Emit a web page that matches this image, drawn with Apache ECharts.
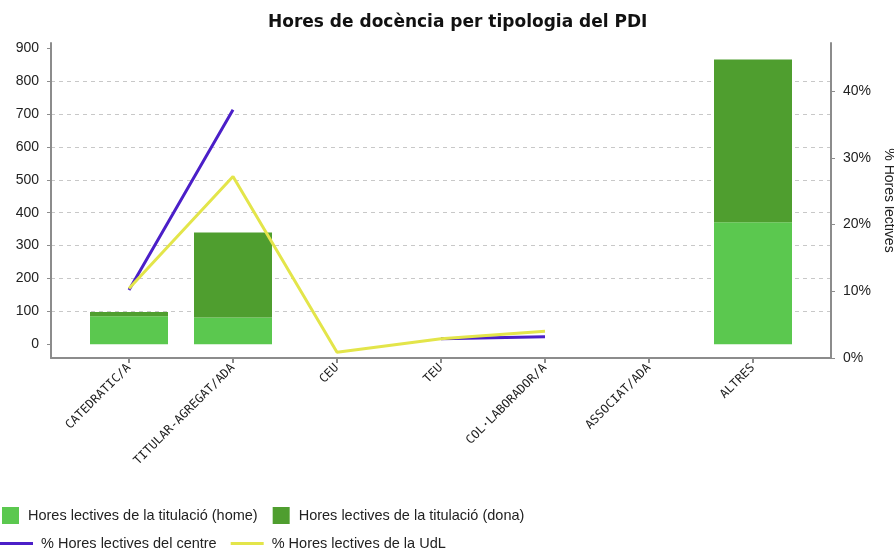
<!DOCTYPE html>
<html>
<head>
<meta charset="utf-8">
<script src="https://cdn.jsdelivr.net/npm/echarts@6/dist/echarts.min.js"></script>
<style>
  html, body { margin: 0; padding: 0; background: #fff; }
  #chart { width: 894px; height: 550px; }
</style>
</head>
<body>
<div id="chart"></div>
<script>
const categories = ['CATEDRATIC/A', 'TITULAR-AGREGAT/ADA', 'CEU', 'TEU', 'COL·LABORADOR/A', 'ASSOCIAT/ADA', 'ALTRES'];
const homeHours = [85, 81, null, null, null, null, 371];
const donaHours = [13, 259, null, null, null, null, 495];
const pctCentre = [10.2, 37.2, null, 2.9, 3.2, null, null];
const pctUdL = [10.4, 27.2, 0.85, 2.9, 4.0, null, null];
const leftTicks = [0, 100, 200, 300, 400, 500, 600, 700, 800, 900];
const rightTicks = [0, 10, 20, 30, 40];

const chart = echarts.init(document.getElementById('chart'));
const gray = '#8c8c8c';
const font = 'Liberation Sans';

chart.setOption({
    animation: false,
    title: {
        text: 'Hores de docència per tipologia del PDI',
        left: 268,
        top: 14,
        padding: 0,
        textStyle: { fontFamily: 'DejaVu Sans', fontSize: 17, fontWeight: 'bold', color: '#111' }
    },
    legend: [{
        data: ['Hores lectives de la titulació (home)', 'Hores lectives de la titulació (dona)'],
        left: 2,
        top: 507,
        padding: 0,
        icon: 'rect',
        itemWidth: 17,
        itemHeight: 17,
        itemGap: 15,
        textStyle: { fontFamily: font, fontSize: 14.5, color: '#222', padding: [0, 0, 0, 4] }
    }, {
        data: ['% Hores lectives del centre', '% Hores lectives de la UdL'],
        left: 0,
        top: 536,
        padding: 0,
        icon: 'rect',
        itemWidth: 33,
        itemHeight: 3,
        itemGap: 14,
        textStyle: { fontFamily: font, fontSize: 14.5, color: '#222', padding: [0, 0, 0, 3] }
    }],
    grid: [
        { left: 51, right: 63, top: 43, bottom: 192, outerBoundsMode: 'none', containLabel: false },
        { left: 77, right: 89, top: 43, bottom: 192, outerBoundsMode: 'none', containLabel: false }
    ],
    xAxis: [{
        type: 'value',
        gridIndex: 0,
        min: 0,
        max: 1,
        axisLine: { onZero: false, lineStyle: { color: gray, width: 2 } },
        axisTick: { show: false },
        axisLabel: { show: false },
        splitLine: { show: false }
    }, {
        type: 'category',
        gridIndex: 1,
        data: categories,
        axisLine: { show: false, onZero: false },
        axisTick: { show: true, alignWithLabel: true, length: 5, lineStyle: { color: gray, width: 2 } },
        axisLabel: {
            rotate: 45,
            interval: 0,
            fontFamily: 'DejaVu Sans Mono',
            fontSize: 12,
            color: '#222',
            margin: 8
        }
    }],
    yAxis: [{
        type: 'value',
        gridIndex: 0,
        min: -42,
        max: 916,
        position: 'left',
        axisLine: { show: true, onZero: false, lineStyle: { color: gray, width: 2 } },
        axisTick: { show: true, customValues: leftTicks, length: 4, lineStyle: { color: gray } },
        axisLabel: { customValues: leftTicks, fontFamily: font, fontSize: 14, color: '#222', margin: 12 },
        splitLine: { show: true, showMinLine: false, showMaxLine: false, lineStyle: { type: [4, 4], color: '#c8c8c8' } }
    }, {
        type: 'value',
        gridIndex: 0,
        min: 0,
        max: 47.2,
        position: 'right',
        name: '% Hores lectives',
        nameLocation: 'middle',
        nameRotate: -90,
        nameGap: 48,
        nameTextStyle: { fontFamily: font, fontSize: 14, color: '#222' },
        axisLine: { show: true, onZero: false, lineStyle: { color: gray, width: 2 } },
        axisTick: { show: true, customValues: rightTicks, length: 4, lineStyle: { color: gray } },
        axisLabel: { customValues: rightTicks, formatter: '{value}%', fontFamily: font, fontSize: 14, color: '#222', margin: 12 },
        splitLine: { show: false }
    }, {
        type: 'value',
        gridIndex: 1,
        min: -42,
        max: 916,
        show: false
    }, {
        type: 'value',
        gridIndex: 1,
        min: 0,
        max: 47.2,
        show: false
    }],
    series: [{
        name: 'Hores lectives de la titulació (home)',
        type: 'bar',
        stack: 'hores',
        barWidth: 78,
        xAxisIndex: 1,
        yAxisIndex: 2,
        itemStyle: { color: '#5bc84f' },
        data: homeHours
    }, {
        name: 'Hores lectives de la titulació (dona)',
        type: 'bar',
        stack: 'hores',
        barWidth: 78,
        xAxisIndex: 1,
        yAxisIndex: 2,
        itemStyle: { color: '#4f9e2f' },
        data: donaHours
    }, {
        name: '% Hores lectives del centre',
        type: 'line',
        xAxisIndex: 1,
        yAxisIndex: 3,
        showSymbol: false,
        symbol: 'none',
        lineStyle: { color: '#4b1fc8', width: 3 },
        itemStyle: { color: '#4b1fc8' },
        data: pctCentre
    }, {
        name: '% Hores lectives de la UdL',
        type: 'line',
        xAxisIndex: 1,
        yAxisIndex: 3,
        showSymbol: false,
        symbol: 'none',
        lineStyle: { color: '#e3e54a', width: 3 },
        itemStyle: { color: '#e3e54a' },
        data: pctUdL
    }]
});
</script>
</body>
</html>
